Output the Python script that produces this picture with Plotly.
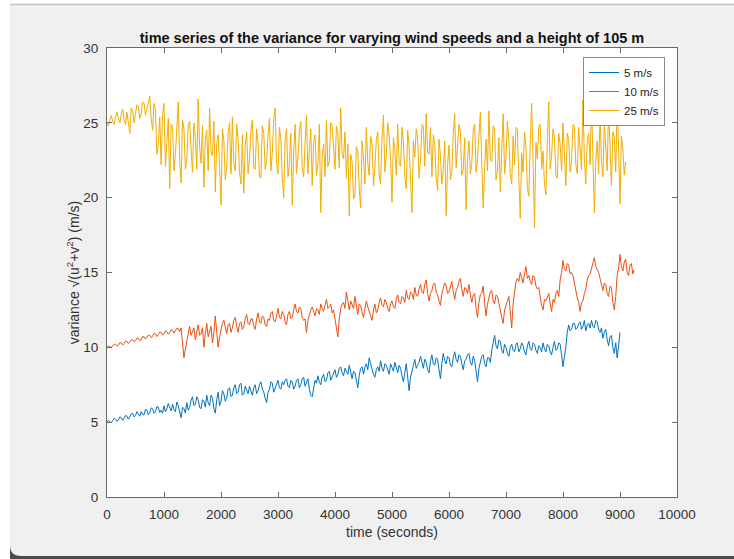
import plotly.graph_objects as go

# ---------------- data ----------------
SAMPLE_STEP = 50  # seconds between the listed samples; *_mid lists sit half a step later

series_names = ["5 m/s", "10 m/s", "25 m/s"]

var_5ms = [
    5.0, 5.05, 5.1, 5.2, 5.15, 5.3, 5.25, 5.4, 5.35, 5.6,
    5.45, 5.55, 5.7, 5.5, 5.8, 5.65, 5.9, 5.7, 6.0, 5.8,
    6.1, 5.9, 6.0, 6.2, 5.7, 6.1, 5.3, 5.9, 6.3, 6.0,
    6.7, 6.2, 6.5, 5.9, 6.4, 6.8, 6.1, 6.6, 5.6, 7.0,
    6.4, 6.9, 6.6, 7.3, 6.8, 7.5, 7.0, 7.6, 6.9, 7.2,
    7.4, 6.8, 7.5, 7.1, 7.7, 7.0, 6.3, 7.2, 7.6, 7.3,
    7.8, 7.2, 7.5, 7.9, 7.3, 7.7, 7.4, 7.9, 7.5, 8.0,
    7.6, 7.2, 6.7, 7.8, 8.1, 7.5, 8.2, 7.8, 8.4, 8.0,
    8.5, 8.2, 8.7, 8.1, 8.4, 8.8, 7.9, 8.3, 7.3, 8.6,
    8.2, 8.9, 9.3, 8.5, 8.0, 8.7, 9.1, 8.4, 8.8, 8.2,
    8.7, 9.0, 8.3, 8.6, 7.7, 8.9, 7.1, 8.5, 9.2, 8.8,
    9.4, 8.6, 9.0, 8.3, 9.5, 8.8, 9.2, 7.9, 9.6, 8.9,
    9.3, 8.7, 9.7, 9.0, 9.4, 8.5, 9.2, 9.6, 8.8, 9.1,
    7.7, 9.0, 9.5, 8.7, 9.3, 9.8, 10.8, 9.9, 10.4, 9.6,
    10.0, 9.4, 10.2, 9.7, 10.3, 9.9, 10.1, 9.5, 10.4, 9.8,
    10.2, 9.6, 10.0, 10.3, 9.7, 10.1, 9.5, 10.4, 9.9, 10.2,
    8.7, 10.0, 11.5, 11.2, 11.6, 11.3, 11.7, 11.4, 11.1, 11.6,
    11.8, 11.3, 11.7, 11.0, 10.6, 11.2, 10.1, 10.8, 9.6, 9.3,
    11.0,
]
var_5ms_mid = [
    5.12, 4.95, 5.25, 5.05, 5.35, 5.12, 5.45, 5.2, 5.55, 5.35,
    5.7, 5.4, 5.5, 5.85, 5.5, 5.95, 5.6, 6.05, 5.65, 5.6,
    5.7, 6.25, 5.75, 5.85, 6.35, 5.6, 6.0, 5.6, 5.8, 6.45,
    6.1, 6.7, 6.0, 6.5, 6.0, 6.3, 6.8, 5.9, 6.5, 6.1,
    7.1, 6.4, 7.2, 6.7, 7.3, 6.9, 7.5, 6.8, 7.4, 6.9,
    7.0, 7.3, 6.9, 7.5, 7.2, 6.6, 7.0, 7.7, 7.0, 7.5,
    7.3, 7.7, 7.8, 7.4, 7.8, 7.2, 7.8, 7.3, 7.9, 7.4,
    7.9, 6.8, 7.4, 7.6, 7.7, 8.0, 7.7, 8.3, 7.8, 8.2,
    8.0, 8.6, 8.3, 8.6, 8.2, 8.3, 8.4, 7.8, 8.1, 8.7,
    8.7, 8.5, 8.9, 8.2, 8.5, 8.4, 8.6, 8.9, 8.4, 8.9,
    8.4, 8.6, 8.8, 8.1, 8.3, 8.0, 8.0, 8.8, 8.6, 9.0,
    8.9, 9.2, 8.5, 9.1, 8.9, 9.3, 8.5, 8.9, 9.1, 9.4,
    8.8, 9.3, 9.2, 9.5, 8.9, 9.1, 9.5, 9.0, 9.4, 8.4,
    8.6, 9.4, 8.9, 9.3, 9.0, 10.3, 10.1, 10.5, 9.8, 10.2,
    9.6, 10.0, 9.8, 10.2, 9.7, 10.3, 9.7, 10.1, 9.9, 10.3,
    9.8, 10.1, 9.7, 9.9, 10.2, 9.7, 10.0, 9.8, 10.3, 9.5,
    9.4, 11.0, 11.1, 11.6, 11.2, 11.6, 11.2, 11.8, 11.5, 11.3,
    11.4, 11.8, 11.2, 11.3, 11.0, 10.5, 10.7, 10.0, 10.3, 10.1,
]

var_10ms = [
    10.0, 10.05, 10.1, 10.2, 10.15, 10.3, 10.25, 10.4, 10.35, 10.5,
    10.45, 10.6, 10.5, 10.7, 10.65, 10.8, 10.75, 10.9, 10.85, 11.0,
    10.9, 11.05, 11.0, 11.15, 11.1, 11.25, 11.3, 9.3, 10.4, 11.4,
    11.1, 10.5, 11.5, 10.9, 10.0, 11.6, 11.0, 10.3, 12.1, 10.0,
    11.2, 11.8, 10.9, 11.6, 11.3, 12.0, 11.0, 11.7, 11.4, 12.2,
    11.5, 11.9, 11.2, 12.3, 11.6, 12.0, 11.4, 11.8, 12.4, 11.7,
    12.6, 11.9, 12.2, 11.5, 12.4, 12.0, 12.9, 12.3, 12.6, 11.8,
    11.0, 12.2, 12.7, 12.1, 12.5, 12.9, 12.4, 13.2, 12.7, 12.3,
    11.8, 10.7, 12.6, 13.0, 13.7, 12.5, 12.9, 13.4, 12.2, 12.8,
    12.0, 13.1, 12.4, 11.8, 12.9, 12.5, 13.3, 12.7, 13.0, 12.4,
    13.1, 12.6, 13.5, 12.9, 13.3, 13.8, 13.2, 13.6, 14.0, 13.4,
    14.2, 13.6, 14.5, 13.1, 13.8, 14.3, 13.5, 12.8, 13.9, 14.1,
    13.7, 14.4, 13.2, 14.0, 14.6, 13.4, 13.9, 14.2, 13.0, 13.6,
    12.0, 13.5, 14.1, 12.1, 13.3, 13.8, 12.9, 13.4, 12.5, 11.6,
    12.8, 13.4, 11.3, 13.9, 14.6, 15.0, 14.3, 15.4, 14.8, 14.2,
    14.7, 13.9, 13.2, 12.5, 13.1, 13.6, 12.4, 13.0, 13.8, 14.5,
    15.8, 15.1, 15.5, 15.0, 14.2, 13.3, 12.4, 13.1, 13.9, 14.8,
    15.3, 16.0, 15.2, 14.6, 13.8, 14.2, 13.4, 14.0, 12.5, 14.8,
    16.2, 15.1, 15.9, 14.8, 15.6, 15.2,
]
var_10ms_mid = [
    10.1, 9.98, 10.2, 10.08, 10.3, 10.15, 10.42, 10.25, 10.5, 10.38,
    10.62, 10.45, 10.72, 10.55, 10.82, 10.65, 10.92, 10.72, 11.02, 10.82,
    11.1, 10.88, 11.18, 10.95, 11.28, 11.05, 10.3, 9.9, 11.1, 10.8,
    11.3, 11.1, 10.8, 11.3, 10.9, 10.7, 11.4, 11.0, 10.9, 10.7,
    11.6, 11.3, 11.5, 11.0, 11.8, 11.4, 11.6, 11.2, 11.9, 11.6,
    11.9, 11.4, 11.9, 11.7, 12.1, 11.5, 11.9, 12.3, 11.8, 12.1,
    12.0, 12.4, 11.7, 12.2, 11.9, 12.5, 12.4, 12.7, 12.0, 11.9,
    11.8, 12.5, 12.3, 12.6, 12.2, 12.6, 12.8, 12.6, 12.9, 12.5,
    11.1, 11.9, 12.9, 12.6, 13.1, 13.1, 12.6, 12.8, 12.9, 12.3,
    12.6, 12.7, 12.0, 12.5, 12.3, 13.0, 12.8, 13.2, 12.6, 12.9,
    12.7, 13.2, 13.0, 13.4, 13.0, 13.3, 13.7, 13.2, 13.5, 13.9,
    13.7, 14.2, 13.6, 13.6, 14.2, 13.7, 13.1, 13.6, 14.3, 13.6,
    14.1, 13.7, 13.8, 14.4, 13.9, 14.0, 13.6, 13.5, 13.5, 12.6,
    13.0, 13.6, 13.0, 12.9, 13.7, 13.1, 13.5, 12.8, 12.0, 12.5,
    13.2, 12.4, 12.9, 14.4, 14.4, 14.6, 14.9, 14.6, 14.4, 14.8,
    14.1, 14.0, 12.8, 13.2, 13.4, 12.9, 13.2, 13.6, 13.4, 15.0,
    15.2, 15.6, 14.9, 14.8, 13.6, 13.0, 13.0, 13.6, 14.5, 14.9,
    15.8, 15.4, 15.0, 14.1, 14.3, 13.6, 14.1, 13.0, 13.4, 15.3,
    15.4, 15.7, 15.0, 15.5, 14.9,
]

var_25ms = [
    25.0, 25.2, 25.1, 25.4, 25.3, 25.6, 25.2, 25.7, 24.3, 25.8,
    25.5, 26.1, 25.6, 26.3, 25.9, 26.8, 24.5, 25.9, 23.6, 22.2,
    26.3, 23.4, 20.6, 24.8, 22.9, 26.4, 21.0, 24.6, 22.5, 25.1,
    21.7, 24.0, 26.6, 22.3, 20.7, 24.5, 26.0, 22.8, 20.4, 24.2,
    19.5, 23.8, 22.1, 25.0, 25.4, 21.8, 23.9, 20.9, 20.3, 24.4,
    22.6, 25.2, 21.9, 23.7, 21.3, 24.3, 22.4, 25.3, 23.0, 26.0,
    21.6, 23.9, 20.0, 24.6, 22.2, 19.5, 24.9, 22.7, 25.1, 21.4,
    25.5, 22.9, 20.8, 24.2, 22.3, 19.0, 23.6, 25.2, 22.4, 24.8,
    21.9, 24.3, 26.0, 22.6, 21.3, 18.8, 22.4, 20.2, 23.1, 19.3,
    22.7, 24.7, 21.5, 23.6, 22.0, 24.4, 20.9, 25.5, 22.8, 24.1,
    19.7, 23.2, 24.9, 22.1, 23.8, 20.6, 23.4, 19.0, 22.7, 23.9,
    22.5, 24.8, 25.6, 22.9, 21.4, 23.6, 20.5, 22.8, 21.9, 18.8,
    23.5, 21.7, 25.6, 23.2, 24.4, 21.9, 19.2, 23.8, 22.3, 24.9,
    22.6, 25.7, 19.3, 23.9, 25.8, 22.4, 24.6, 21.8, 20.4, 25.6,
    22.7, 23.9, 20.9, 22.2, 24.5, 18.6, 21.7, 23.4, 20.1, 26.3,
    18.0, 22.6, 24.9, 23.1, 20.2, 26.4, 22.8, 24.0, 21.3, 23.6,
    25.0, 20.8, 23.9, 22.4, 24.8, 21.6, 23.5, 26.5, 20.9, 24.3,
    26.3, 19.0, 23.8, 25.6, 21.4, 23.2, 26.1, 20.8, 24.0, 26.2,
    19.6, 23.3, 22.4,
]
var_25ms_mid = [
    24.8, 25.5, 24.9, 25.7, 25.0, 25.9, 24.9, 25.1, 26.0, 25.0,
    26.2, 25.3, 26.4, 25.5, 26.5, 25.3, 26.3, 22.9, 25.4, 25.5,
    22.1, 25.3, 24.9, 21.8, 25.0, 22.4, 25.2, 21.9, 24.8, 23.2,
    25.0, 21.9, 23.4, 24.8, 23.9, 21.8, 23.1, 25.1, 23.6, 22.0,
    24.6, 21.2, 24.3, 21.6, 22.3, 24.9, 21.7, 24.2, 23.5, 21.6,
    24.5, 22.0, 24.6, 21.4, 24.8, 21.9, 24.1, 21.8, 25.2, 22.3,
    24.7, 21.3, 23.8, 21.4, 24.3, 23.1, 21.6, 24.4, 22.0, 23.7,
    21.6, 24.6, 23.7, 21.5, 24.9, 22.8, 21.4, 22.1, 25.0, 23.3,
    24.8, 22.0, 22.9, 24.4, 23.6, 22.9, 19.9, 23.4, 20.6, 23.8,
    20.9, 22.3, 24.1, 20.8, 23.9, 21.6, 24.0, 21.7, 25.0, 22.6,
    24.0, 21.5, 22.3, 24.7, 21.4, 24.5, 21.2, 23.8, 24.6, 21.3,
    24.9, 22.1, 23.0, 24.7, 24.2, 21.3, 23.9, 20.9, 23.8, 22.2,
    21.2, 24.3, 22.0, 24.9, 21.5, 24.0, 22.6, 21.6, 24.5, 21.7,
    24.2, 22.3, 22.0, 21.8, 22.6, 24.8, 21.2, 24.0, 23.1, 21.6,
    25.1, 21.6, 24.1, 24.7, 21.3, 23.0, 24.4, 20.6, 23.6, 22.5,
    23.7, 24.7, 21.9, 20.9, 23.8, 21.9, 24.6, 21.5, 24.3, 21.8,
    22.9, 24.3, 21.7, 24.9, 22.2, 24.7, 21.9, 22.6, 23.8, 22.2,
    22.0, 22.4, 21.6, 22.4, 24.9, 21.8, 22.7, 24.4, 21.7, 23.2,
    24.1, 21.5,
]

series_values = [(var_5ms, var_5ms_mid), (var_10ms, var_10ms_mid), (var_25ms, var_25ms_mid)]
series_colors = ["#0072BD", "#EE4E10", "#F2AE00"]

x_ticks = [0, 1000, 2000, 3000, 4000, 5000, 6000, 7000, 8000, 9000, 10000]
y_ticks = [0, 5, 10, 15, 20, 25, 30]

title_text = "time series of the variance for varying wind speeds and a height of 105 m"
x_title = "time (seconds)"
y_title = "variance \u221a(u<sup>2</sup>+v<sup>2</sup>) (m/s)"

# ---------------- figure ----------------
W, H = 734, 559
L, R, T, B = 107, 677, 48, 497  # plot area in pixels


def fx(px):
    return (px - L) / (R - L)


def fy(py):
    return (B - py) / (B - T)


NARROW = "Liberation Sans Narrow, Arial Narrow, Liberation Sans, Arial, sans-serif"
REG = "Liberation Sans, Arial, Helvetica, sans-serif"

fig = go.Figure()
for name, (main, mid), col in zip(series_names, series_values, series_colors):
    xs, ys = [], []
    for i, v in enumerate(main):
        xs.append(SAMPLE_STEP * i)
        ys.append(v)
        if i < len(mid):
            xs.append(SAMPLE_STEP * i + SAMPLE_STEP / 2)
            ys.append(mid[i])
    fig.add_trace(go.Scatter(
        x=xs, y=ys, mode="lines", name=name,
        line=dict(color=col, width=1),
    ))

axis_common = dict(
    showline=True, linecolor="#6a6a6a", linewidth=1, mirror="ticks",
    ticks="inside", ticklen=5, tickcolor="#6a6a6a", tickwidth=1,
    showgrid=False, zeroline=False,
    tickfont=dict(family=NARROW, size=13.5, color="#333333"),
)

fig.update_layout(
    width=W, height=H,
    margin=dict(l=L, r=W - R, t=T, b=H - B, pad=0),
    paper_bgcolor="#f0f0f0",
    plot_bgcolor="#ffffff",
    showlegend=True,
    title=dict(text="<b>" + title_text + "</b>", x=392 / W,
               xanchor="center", y=1 - 38 / H, yanchor="middle",
               font=dict(family=NARROW, size=14.5, color="#111111")),
    xaxis=dict(range=[0, 10000], tickvals=x_ticks,
               ticktext=[str(v) for v in x_ticks], ticklabelstandoff=5,
               title=dict(text=x_title, standoff=5,
                          font=dict(family=NARROW, size=14, color="#333333")),
               **axis_common),
    yaxis=dict(range=[0, 30], tickvals=y_ticks,
               ticktext=[str(v) for v in y_ticks], ticklabelstandoff=5,
               title=dict(text=y_title, standoff=0,
                          font=dict(family=REG, size=14, color="#333333")),
               **axis_common),
    legend=dict(x=fx(665), xanchor="right", y=fy(57), yanchor="top",
                bgcolor="#ffffff", bordercolor="#8a8a8a", borderwidth=1,
                font=dict(family=NARROW, size=11.5, color="#222222"),
                tracegroupgap=0, itemwidth=30),
)

# window frame of the screenshot
shapes = [
    dict(type="rect", xref="paper", yref="paper", x0=fx(-5), x1=fx(10),
         y0=fy(H + 5), y1=fy(-5), fillcolor="#ffffff", line=dict(width=0), layer="below"),
    dict(type="rect", xref="paper", yref="paper", x0=fx(-5), x1=fx(W + 5),
         y0=fy(4), y1=fy(-5), fillcolor="#ffffff", line=dict(width=0), layer="below"),
    dict(type="line", xref="paper", yref="paper", x0=fx(10), x1=fx(W + 5),
         y0=fy(4.5), y1=fy(4.5), line=dict(color="#c4c4c4", width=1.5), layer="below"),
    dict(type="rect", xref="paper", yref="paper", x0=fx(18), x1=fx(W + 5),
         y0=fy(H + 5), y1=fy(556), fillcolor="#4a4a4a", line=dict(width=0), layer="below"),
    dict(type="path", xref="paper", yref="paper",
         path=(f"M {fx(10)},{fy(545)} Q {fx(10)},{fy(556)} {fx(21)},{fy(556)} "
               f"L {fx(21)},{fy(H + 5)} L {fx(10)},{fy(H + 5)} Z"),
         fillcolor="#4a4a4a", line=dict(width=0), layer="below"),
]
fig.update_layout(shapes=shapes)

fig.write_html("out.html")
